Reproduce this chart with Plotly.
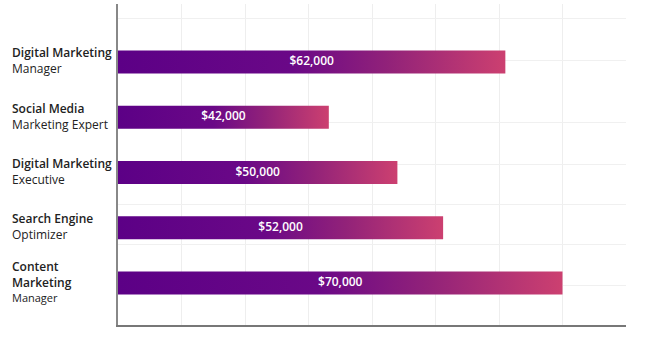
import plotly.graph_objects as go

# Data
roles_bold = ["Digital Marketing", "Social Media", "Digital Marketing", "Search Engine", "Content<br>Marketing"]
roles_rest = ["Manager", "Marketing Expert", "Executive", "Optimizer", "Manager"]
bar_lengths = [61000, 33200, 44000, 51200, 70000]
salary_labels = ["$62,000", "$42,000", "$50,000", "$52,000", "$70,000"]
grid_positions = [-0.78, -0.02, 1.10, 1.85, 2.57, 3.31, 4.04]

BAR_H = 0.42
scale = [[0.0, "#5c0086"], [0.45, "#6a0887"], [0.7, "#922279"], [1.0, "#cc4070"]]

fig = go.Figure()
for i, v in enumerate(bar_lengths):
    y0, y1 = i - BAR_H / 2, i + BAR_H / 2
    fig.add_trace(go.Scatter(
        x=[0, v, v, 0, 0], y=[y0, y0, y1, y1, y0],
        mode="lines", line=dict(width=0), fill="toself",
        fillgradient=dict(type="horizontal", colorscale=scale),
        hoverinfo="skip", showlegend=False,
    ))

fig.add_trace(go.Scatter(
    x=[v / 2 for v in bar_lengths], y=list(range(len(bar_lengths))),
    mode="text", text=salary_labels,
    textfont=dict(family="Open Sans", size=12, color="white", weight=600),
    hoverinfo="skip", showlegend=False,
))

for i, (b, r) in enumerate(zip(roles_bold, roles_rest)):
    small = 11 if i == 4 else 12
    txt = f"<span style='font-weight:600'>{b}</span><br><span style='font-size:{small}px'>{r}</span>"
    fig.add_annotation(
        x=-0.2126, xref="paper", y=i - 0.02, yref="y",
        text=txt, showarrow=False, xanchor="left", yanchor="middle", align="left",
        font=dict(family="Open Sans", size=12, color="#222222"),
    )

fig.update_layout(
    width=650, height=338,
    margin=dict(l=118, r=24, t=4, b=13),
    plot_bgcolor="white", paper_bgcolor="white",
    xaxis=dict(range=[0, 80000], dtick=10000, showgrid=True, gridcolor="#eeeeee", gridwidth=1,
               showticklabels=False, zeroline=False, showline=True, linecolor="#777777",
               linewidth=2, ticks=""),
    yaxis=dict(range=[4.76, -1.05], tickvals=grid_positions, showgrid=True, gridcolor="#f0f0f0",
               showticklabels=False, zeroline=False, showline=True, linecolor="#888888",
               linewidth=2, ticks=""),
)

fig.write_html("out.html")
